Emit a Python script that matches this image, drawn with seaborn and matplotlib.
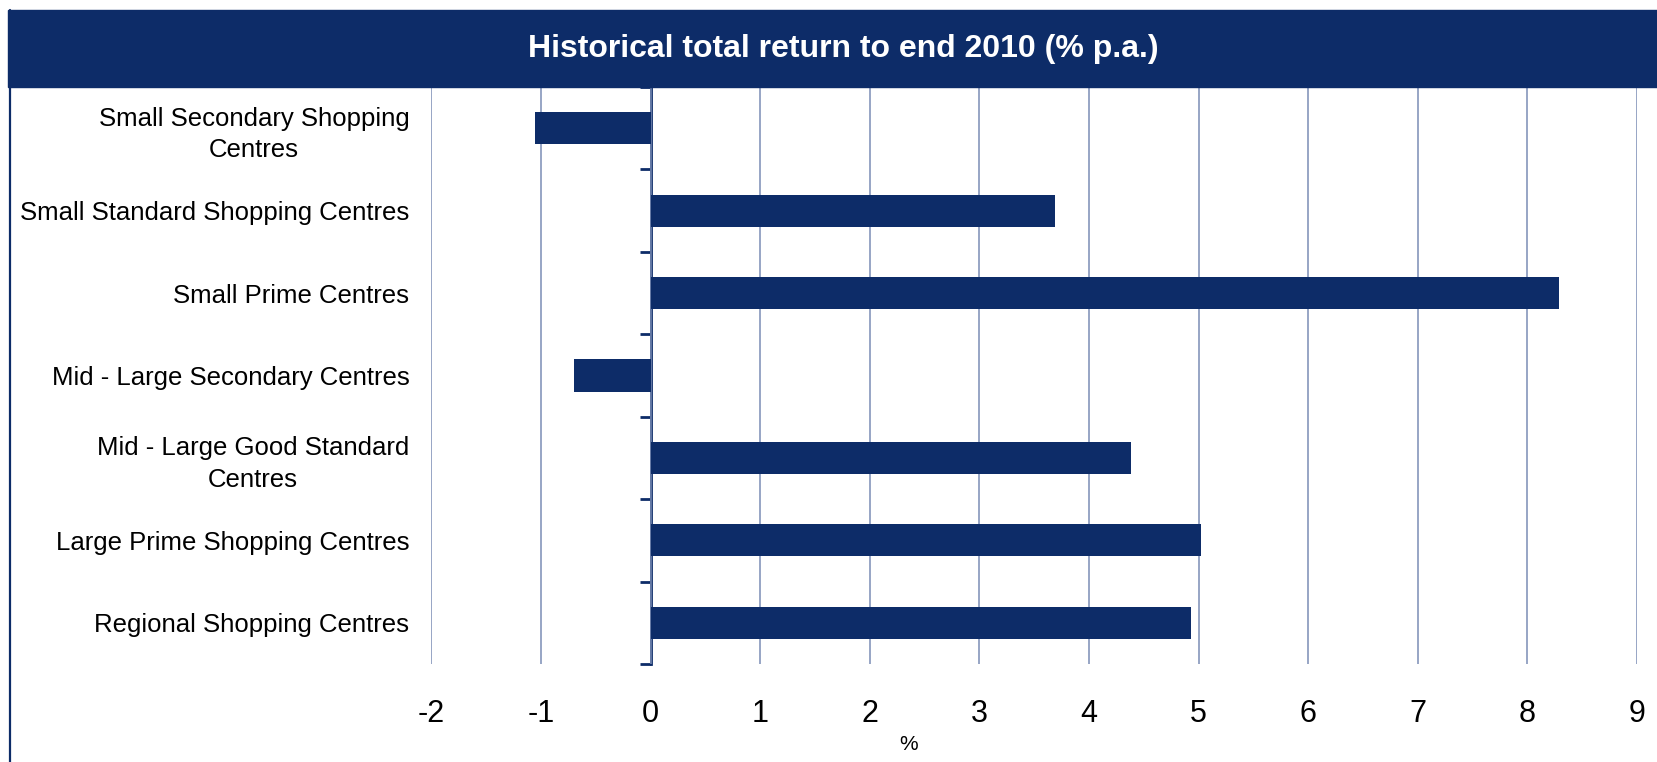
import numpy as np
import pandas as pd
import seaborn as sns
import matplotlib.pyplot as plt
from matplotlib.patches import Rectangle
from matplotlib.lines import Line2D

# data
categories = [
    "Small Secondary Shopping\nCentres",
    "Small Standard Shopping Centres",
    "Small Prime Centres",
    "Mid - Large Secondary Centres",
    "Mid - Large Good Standard\nCentres",
    "Large Prime Shopping Centres",
    "Regional Shopping Centres",
]
returns = [-1.06, 3.69, 8.29, -0.70, 4.38, 5.02, 4.93]
x_ticks = list(range(-2, 10))

title = "Historical total return to end 2010 (% p.a.)"
navy = "#0d2c68"
grid_col = "#7b8db5"

sns.set_style("white")
plt.rcParams['font.family'] = ['Liberation Sans', 'DejaVu Sans']
plt.rcParams['text.color'] = 'black'
plt.rcParams['xtick.color'] = 'black'
plt.rcParams['ytick.color'] = 'black'

df = pd.DataFrame({"category": categories, "value": returns})

W, H = 1657, 762
fig = plt.figure(figsize=(W / 100, H / 100), dpi=100)
ax = fig.add_axes([431.5 / W, 1 - 664 / H, (1637 - 431.5) / W, (664 - 87) / H])

sns.barplot(data=df, x="value", y="category", orient="h", color=navy,
            saturation=1, width=0.39, linewidth=0, ax=ax, zorder=3)

ax.set_xlim(x_ticks[0], x_ticks[-1])
ax.set_xticks(x_ticks)
ax.set_xticklabels([str(t) for t in x_ticks], fontsize=22, color="black")
ax.grid(axis="x", color=grid_col, linewidth=1.1)
ax.grid(axis="y", visible=False)
ax.set_axisbelow(True)
ax.tick_params(axis="x", length=0, pad=25, labelcolor="black")
ax.tick_params(axis="y", length=0, pad=16, labelsize=18.5, labelcolor="black")
for lbl in ax.get_yticklabels():
    lbl.set_multialignment("center")
    lbl.set_linespacing(1.4)
ax.set_xlabel("")
ax.set_ylabel("")
for s in ax.spines.values():
    s.set_visible(False)

# category axis drawn at x = 0 with ticks at the category boundaries
xmin, xmax = ax.get_xlim()
sec = ax.secondary_yaxis((0 - xmin) / (xmax - xmin))
sec.set_yticks(np.arange(len(categories) + 1) - 0.5)
sec.tick_params(axis="y", direction="out", length=8, width=2, color=navy,
                labelleft=False, labelright=False)
for name, sp in sec.spines.items():
    sp.set_color(navy)
    sp.set_linewidth(2)

# title band and frame
fig.patches.append(Rectangle((8 / W, 1 - 87 / H), 1, (87 - 10) / H,
                             transform=fig.transFigure, color=navy, zorder=0))
fig.lines.append(Line2D([9.5 / W, 9.5 / W], [0, 1 - 10 / H],
                        transform=fig.transFigure, color=navy, linewidth=1.6))
fig.text(843 / W, 1 - 49 / H, title, color="white", fontsize=23,
         fontweight="bold", ha="center", va="center")
fig.text(909 / W, 1 - 745 / H, "%", fontsize=15, color="black",
         ha="center", va="center")

fig.savefig("out.png", dpi=100)
